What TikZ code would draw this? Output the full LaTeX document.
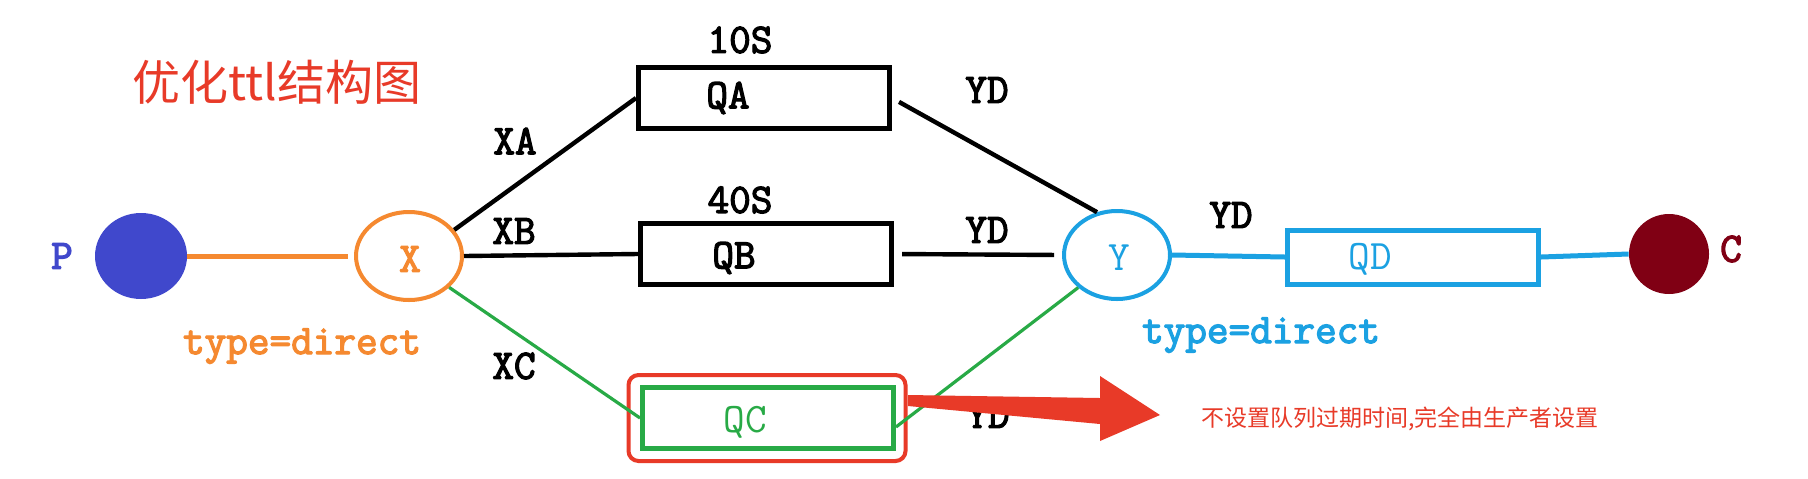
\documentclass[tikz,border=0pt]{standalone}
\usepackage{fontspec}
\setmonofont{Latin Modern Mono}[AutoFakeBold=3]
\newfontfamily\cjk{Noto Sans CJK SC}
\usetikzlibrary{shapes.geometric}
\definecolor{xorange}{RGB}{245,137,48}
\definecolor{yblue}{RGB}{27,161,226}
\definecolor{qgreen}{RGB}{40,170,70}
\definecolor{pblue}{RGB}{64,72,204}
\definecolor{cred}{RGB}{128,0,20}
\definecolor{nred}{RGB}{232,58,40}
\tikzset{
  lbl/.style={font=\ttfamily\bfseries\fontsize{21}{21}\selectfont, inner sep=0pt},
  lblr/.style={font=\ttfamily\fontsize{21}{21}\selectfont, inner sep=0pt},
  queuebox/.style={draw, rectangle, line width=2.5pt, minimum width=125.5pt, minimum height=30.5pt, inner sep=0pt},
  exch/.style={draw, ellipse, line width=2pt, minimum width=53pt, minimum height=44pt, inner sep=0pt, fill=white},
  blackline/.style={line width=2.2pt, black},
}
\begin{document}
\begin{tikzpicture}[x=0.5pt,y=-0.5pt]
\useasboundingbox[fill=white] (0,0) rectangle (1808,478);

% title
\node[text=nred, font=\cjk\fontsize{24}{24}\selectfont, inner sep=0pt] (title) at (277,82) {优化ttl结构图};

% producer and exchange X
\node[ellipse, fill=pblue, minimum width=46pt, minimum height=43pt, inner sep=0pt] (P) at (141,256) {};
\node[lbl, text=pblue] (Pl) at (62,256) {P};
\node[exch, draw=xorange] (X) at (409,256) {};
\node[lbl, text=xorange] (Xl) at (410,259) {X};
\node[lbl, text=xorange] (Xt) at (302,346) {type=direct};

% queues
\node[queuebox] (QA) at (764,98) {};
\node[lbl] (QAl) at (728,98) {QA};
\node[lbl] (tA) at (740,40) {10S};
\node[queuebox] (QB) at (766,254) {};
\node[lbl] (QBl) at (734,258) {QB};
\node[lbl] (tB) at (740,200) {40S};
\node[queuebox, draw=qgreen] (QC) at (768,418) {};
\node[lblr, text=qgreen] (QCl) at (745,422) {QC};
\node[draw=nred, line width=2pt, rounded corners=5pt, minimum width=138.5pt, minimum height=43pt, inner sep=0pt] (RB) at (767,418) {};

% labels on edges
\node[lbl] (XA) at (515,141) {XA};
\node[lbl] (XB) at (514,231) {XB};
\node[lbl] (XC) at (514,366) {XC};
\node[lbl] (YD1) at (987,90) {YD};
\node[lbl] (YD2) at (987,230) {YD};
\node[lbl] (YD3) at (988,415) {YD};
\node[lbl] (YD4) at (1231,215) {YD};

% exchange Y, queue QD, consumer C
\node[exch, draw=yblue] (Y) at (1117,255) {};
\node[lblr, text=yblue] (Yl) at (1119,258) {Y};
\node[lbl, text=yblue] (Yt) at (1261,335) {type=direct};
\node[queuebox, draw=yblue, minimum height=27pt] (QD) at (1413,257) {};
\node[lblr, text=yblue] (QDl) at (1370,259) {QD};
\node[circle, fill=cred, minimum size=40pt, inner sep=0pt] (C) at (1669,254) {};
\node[lbl, text=cred] (Cl) at (1731,249) {C};

% connectors
\draw[xorange, line width=2.5pt, shorten >=3pt] (P) -- (X);
\draw[blackline] (X.30) -- (QA.west);
\draw[blackline] (X.east) -- (QB.west);
\draw[qgreen, line width=1.6pt] (X.-38) -- (QC.west);
\draw[blackline, shorten <=4pt] (QA.east) -- (Y.115);
\draw[blackline, shorten <=4pt, shorten >=4pt] (QB.east) -- (Y.west);
\draw[qgreen, line width=1.6pt] (QC.-4) -- (Y.-140);
\draw[yblue, line width=2.5pt] (Y.east) -- (QD.west);
\draw[yblue, line width=2.5pt] (QD.east) -- (C.west);

% red callout arrow and note
\fill[nred] (908,395) -- (1100,398) -- (1100,376) -- (1160,415) -- (1100,441) -- (1100,424) -- (908,406) -- cycle;
\node[text=nred, font=\cjk\fontsize{11.5}{11.5}\selectfont, inner sep=0pt] (note) at (1400,419) {不设置队列过期时间,完全由生产者设置};
\end{tikzpicture}
\end{document}
